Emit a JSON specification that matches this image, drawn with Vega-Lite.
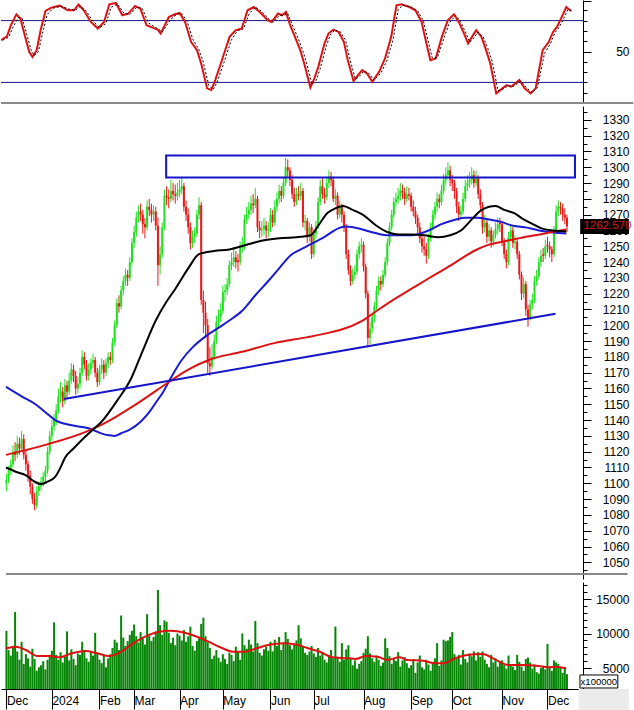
{
"$schema": "https://vega.github.io/schema/vega-lite/v6.json",
"padding": 0,
"background": "white",
"spacing": 3,
"bounds": "flush",
"config": {"view": {"stroke": null}, "font": "Liberation Sans",
  "axis": {"labelFont": "Liberation Sans", "labelFontSize": 12, "labelColor": "black", "domainColor": "black", "tickColor": "black", "grid": false, "title": null}},
"resolve": {"scale": {"x": "independent", "y": "independent"}},
"datasets": {
"px": [
{"i":-21,"o":1100,"h":1106,"l":1095,"c":1102,"v":10400},
{"i":-20,"o":1102,"h":1111,"l":1100,"c":1108,"v":7600},
{"i":-19,"o":1108,"h":1115,"l":1105,"c":1112,"v":6800},
{"i":-18,"o":1112,"h":1124,"l":1110,"c":1120,"v":8200},
{"i":-17,"o":1120,"h":1126,"l":1114,"c":1118,"v":13100},
{"i":-16,"o":1118,"h":1130,"l":1116,"c":1125,"v":7400},
{"i":-15,"o":1125,"h":1129,"l":1118,"c":1122,"v":6200},
{"i":-14,"o":1122,"h":1133,"l":1120,"c":1128,"v":8800},
{"i":-13,"o":1128,"h":1131,"l":1115,"c":1118,"v":5600},
{"i":-12,"o":1118,"h":1121,"l":1108,"c":1112,"v":7000},
{"i":-11,"o":1112,"h":1114,"l":1101,"c":1105,"v":6400},
{"i":-10,"o":1105,"h":1108,"l":1093,"c":1098,"v":5200},
{"i":-9,"o":1098,"h":1100,"l":1087,"c":1090,"v":7800},
{"i":-8,"o":1090,"h":1094,"l":1083,"c":1086,"v":6300},
{"i":-7,"o":1086,"h":1098,"l":1084,"c":1095,"v":4600},
{"i":-6,"o":1095,"h":1101,"l":1092,"c":1098,"v":5100},
{"i":-5,"o":1098,"h":1104,"l":1095,"c":1101,"v":5400},
{"i":-4,"o":1101,"h":1107,"l":1098,"c":1104,"v":6000},
{"i":-3,"o":1104,"h":1111,"l":1100,"c":1108,"v":4800},
{"i":-2,"o":1108,"h":1123,"l":1106,"c":1120,"v":6200},
{"i":-1,"o":1120,"h":1133,"l":1118,"c":1130,"v":6900},
{"i":0,"o":1130,"h":1140,"l":1127,"c":1136,"v":7500},
{"i":1,"o":1136,"h":1144,"l":1133,"c":1140,"v":11600},
{"i":2,"o":1140,"h":1150,"l":1137,"c":1146,"v":6900},
{"i":3,"o":1146,"h":1160,"l":1144,"c":1155,"v":6200},
{"i":4,"o":1155,"h":1164,"l":1151,"c":1158,"v":7300},
{"i":5,"o":1158,"h":1161,"l":1148,"c":1152,"v":5800},
{"i":6,"o":1152,"h":1166,"l":1150,"c":1162,"v":6600},
{"i":7,"o":1162,"h":1165,"l":1154,"c":1158,"v":10300},
{"i":8,"o":1158,"h":1170,"l":1156,"c":1165,"v":6100},
{"i":9,"o":1165,"h":1176,"l":1163,"c":1172,"v":7700},
{"i":10,"o":1172,"h":1175,"l":1164,"c":1168,"v":6300},
{"i":11,"o":1168,"h":1171,"l":1156,"c":1160,"v":5400},
{"i":12,"o":1160,"h":1167,"l":1157,"c":1163,"v":7100},
{"i":13,"o":1163,"h":1173,"l":1160,"c":1170,"v":6900},
{"i":14,"o":1170,"h":1184,"l":1168,"c":1180,"v":8800},
{"i":15,"o":1180,"h":1183,"l":1172,"c":1175,"v":7600},
{"i":16,"o":1175,"h":1178,"l":1165,"c":1168,"v":6400},
{"i":17,"o":1168,"h":1176,"l":1165,"c":1172,"v":5900},
{"i":18,"o":1172,"h":1179,"l":1169,"c":1176,"v":7300},
{"i":19,"o":1176,"h":1182,"l":1173,"c":1178,"v":6800},
{"i":20,"o":1178,"h":1180,"l":1167,"c":1170,"v":10100},
{"i":21,"o":1170,"h":1173,"l":1161,"c":1164,"v":7200},
{"i":22,"o":1164,"h":1175,"l":1162,"c":1172,"v":6200},
{"i":23,"o":1172,"h":1179,"l":1169,"c":1175,"v":5700},
{"i":24,"o":1175,"h":1178,"l":1166,"c":1170,"v":6800},
{"i":25,"o":1170,"h":1179,"l":1168,"c":1176,"v":5100},
{"i":26,"o":1176,"h":1183,"l":1173,"c":1180,"v":6400},
{"i":27,"o":1180,"h":1183,"l":1175,"c":1178,"v":7000},
{"i":28,"o":1178,"h":1192,"l":1176,"c":1189,"v":7900},
{"i":29,"o":1189,"h":1203,"l":1187,"c":1200,"v":9100},
{"i":30,"o":1200,"h":1217,"l":1198,"c":1214,"v":8700},
{"i":31,"o":1214,"h":1219,"l":1208,"c":1212,"v":7600},
{"i":32,"o":1212,"h":1225,"l":1210,"c":1222,"v":12600},
{"i":33,"o":1222,"h":1231,"l":1219,"c":1228,"v":9400},
{"i":34,"o":1228,"h":1236,"l":1225,"c":1232,"v":8200},
{"i":35,"o":1232,"h":1235,"l":1225,"c":1230,"v":8900},
{"i":36,"o":1230,"h":1243,"l":1228,"c":1240,"v":9800},
{"i":37,"o":1240,"h":1255,"l":1238,"c":1252,"v":10400},
{"i":38,"o":1252,"h":1263,"l":1249,"c":1259,"v":11300},
{"i":39,"o":1259,"h":1272,"l":1256,"c":1268,"v":9600},
{"i":40,"o":1268,"h":1276,"l":1265,"c":1272,"v":8700},
{"i":41,"o":1272,"h":1277,"l":1266,"c":1270,"v":10200},
{"i":42,"o":1270,"h":1273,"l":1258,"c":1264,"v":9300},
{"i":43,"o":1264,"h":1268,"l":1255,"c":1262,"v":8400},
{"i":44,"o":1262,"h":1279,"l":1260,"c":1275,"v":12800},
{"i":45,"o":1275,"h":1280,"l":1269,"c":1273,"v":9700},
{"i":46,"o":1273,"h":1277,"l":1265,"c":1270,"v":8900},
{"i":47,"o":1270,"h":1276,"l":1266,"c":1272,"v":9500},
{"i":48,"o":1272,"h":1275,"l":1260,"c":1263,"v":10300},
{"i":49,"o":1263,"h":1268,"l":1225,"c":1238,"v":16300},
{"i":50,"o":1238,"h":1250,"l":1232,"c":1245,"v":11200},
{"i":51,"o":1245,"h":1265,"l":1243,"c":1262,"v":9800},
{"i":52,"o":1262,"h":1286,"l":1260,"c":1282,"v":11900},
{"i":53,"o":1282,"h":1288,"l":1276,"c":1281,"v":11700},
{"i":54,"o":1281,"h":1286,"l":1274,"c":1280,"v":10100},
{"i":55,"o":1280,"h":1292,"l":1278,"c":1285,"v":8600},
{"i":56,"o":1285,"h":1290,"l":1279,"c":1283,"v":9400},
{"i":57,"o":1283,"h":1289,"l":1277,"c":1282,"v":8300},
{"i":58,"o":1282,"h":1290,"l":1279,"c":1284,"v":10000},
{"i":59,"o":1284,"h":1292,"l":1281,"c":1286,"v":9700},
{"i":60,"o":1286,"h":1294,"l":1283,"c":1288,"v":9000},
{"i":61,"o":1288,"h":1290,"l":1272,"c":1275,"v":10500},
{"i":62,"o":1275,"h":1279,"l":1266,"c":1270,"v":8800},
{"i":63,"o":1270,"h":1274,"l":1258,"c":1262,"v":9600},
{"i":64,"o":1262,"h":1265,"l":1248,"c":1252,"v":11000},
{"i":65,"o":1252,"h":1260,"l":1249,"c":1256,"v":8200},
{"i":66,"o":1256,"h":1262,"l":1252,"c":1258,"v":7500},
{"i":67,"o":1258,"h":1273,"l":1256,"c":1270,"v":8900},
{"i":68,"o":1270,"h":1281,"l":1267,"c":1276,"v":9300},
{"i":69,"o":1276,"h":1278,"l":1213,"c":1216,"v":11400},
{"i":70,"o":1216,"h":1222,"l":1195,"c":1208,"v":12300},
{"i":71,"o":1208,"h":1215,"l":1192,"c":1200,"v":9600},
{"i":72,"o":1200,"h":1204,"l":1170,"c":1176,"v":8700},
{"i":73,"o":1176,"h":1186,"l":1168,"c":1174,"v":7900},
{"i":74,"o":1174,"h":1188,"l":1172,"c":1180,"v":6300},
{"i":75,"o":1180,"h":1194,"l":1178,"c":1190,"v":6800},
{"i":76,"o":1190,"h":1206,"l":1188,"c":1202,"v":7600},
{"i":77,"o":1202,"h":1210,"l":1198,"c":1205,"v":6500},
{"i":78,"o":1205,"h":1214,"l":1202,"c":1209,"v":5900},
{"i":79,"o":1209,"h":1225,"l":1207,"c":1221,"v":7000},
{"i":80,"o":1221,"h":1226,"l":1215,"c":1222,"v":6300},
{"i":81,"o":1222,"h":1230,"l":1219,"c":1226,"v":5600},
{"i":82,"o":1226,"h":1241,"l":1224,"c":1238,"v":7200},
{"i":83,"o":1238,"h":1246,"l":1235,"c":1240,"v":6900},
{"i":84,"o":1240,"h":1248,"l":1237,"c":1243,"v":6000},
{"i":85,"o":1243,"h":1247,"l":1236,"c":1240,"v":8100},
{"i":86,"o":1241,"h":1245,"l":1234,"c":1240,"v":7400},
{"i":87,"o":1240,"h":1253,"l":1238,"c":1249,"v":6200},
{"i":88,"o":1249,"h":1256,"l":1246,"c":1250,"v":10000},
{"i":89,"o":1250,"h":1270,"l":1248,"c":1267,"v":8300},
{"i":90,"o":1267,"h":1275,"l":1264,"c":1270,"v":7800},
{"i":91,"o":1270,"h":1278,"l":1267,"c":1273,"v":9100},
{"i":92,"o":1273,"h":1282,"l":1270,"c":1277,"v":8400},
{"i":93,"o":1277,"h":1283,"l":1271,"c":1276,"v":7400},
{"i":94,"o":1276,"h":1287,"l":1274,"c":1280,"v":11800},
{"i":95,"o":1280,"h":1282,"l":1259,"c":1262,"v":8600},
{"i":96,"o":1262,"h":1266,"l":1255,"c":1260,"v":7200},
{"i":97,"o":1260,"h":1266,"l":1256,"c":1261,"v":6800},
{"i":98,"o":1261,"h":1268,"l":1257,"c":1263,"v":7700},
{"i":99,"o":1263,"h":1266,"l":1255,"c":1260,"v":8100},
{"i":100,"o":1260,"h":1265,"l":1256,"c":1261,"v":7500},
{"i":101,"o":1261,"h":1274,"l":1259,"c":1270,"v":8800},
{"i":102,"o":1270,"h":1273,"l":1262,"c":1265,"v":7400},
{"i":103,"o":1265,"h":1279,"l":1263,"c":1275,"v":9100},
{"i":104,"o":1275,"h":1284,"l":1272,"c":1280,"v":8200},
{"i":105,"o":1280,"h":1289,"l":1277,"c":1285,"v":9500},
{"i":106,"o":1285,"h":1288,"l":1278,"c":1282,"v":7600},
{"i":107,"o":1282,"h":1294,"l":1280,"c":1290,"v":8700},
{"i":108,"o":1290,"h":1306,"l":1288,"c":1300,"v":10200},
{"i":109,"o":1300,"h":1305,"l":1294,"c":1298,"v":9200},
{"i":110,"o":1298,"h":1300,"l":1288,"c":1292,"v":8300},
{"i":111,"o":1292,"h":1295,"l":1280,"c":1283,"v":7700},
{"i":112,"o":1283,"h":1287,"l":1275,"c":1278,"v":8500},
{"i":113,"o":1278,"h":1287,"l":1276,"c":1283,"v":9000},
{"i":114,"o":1283,"h":1288,"l":1279,"c":1282,"v":11200},
{"i":115,"o":1282,"h":1290,"l":1279,"c":1285,"v":9300},
{"i":116,"o":1285,"h":1287,"l":1262,"c":1265,"v":8100},
{"i":117,"o":1265,"h":1270,"l":1260,"c":1266,"v":7200},
{"i":118,"o":1266,"h":1268,"l":1252,"c":1256,"v":6900},
{"i":119,"o":1256,"h":1265,"l":1253,"c":1262,"v":7400},
{"i":120,"o":1262,"h":1264,"l":1242,"c":1245,"v":8200},
{"i":121,"o":1245,"h":1261,"l":1243,"c":1258,"v":7100},
{"i":122,"o":1258,"h":1266,"l":1255,"c":1263,"v":6600},
{"i":123,"o":1263,"h":1281,"l":1261,"c":1278,"v":7900},
{"i":124,"o":1278,"h":1292,"l":1276,"c":1288,"v":6800},
{"i":125,"o":1288,"h":1293,"l":1280,"c":1283,"v":7300},
{"i":126,"o":1283,"h":1287,"l":1277,"c":1281,"v":6200},
{"i":127,"o":1281,"h":1293,"l":1279,"c":1290,"v":5800},
{"i":128,"o":1290,"h":1298,"l":1287,"c":1294,"v":6900},
{"i":129,"o":1294,"h":1297,"l":1288,"c":1292,"v":7600},
{"i":130,"o":1292,"h":1294,"l":1278,"c":1280,"v":6400},
{"i":131,"o":1280,"h":1286,"l":1276,"c":1282,"v":11000},
{"i":132,"o":1282,"h":1284,"l":1267,"c":1270,"v":6600},
{"i":133,"o":1270,"h":1279,"l":1268,"c":1275,"v":5900},
{"i":134,"o":1275,"h":1277,"l":1265,"c":1270,"v":8600},
{"i":135,"o":1270,"h":1272,"l":1259,"c":1262,"v":6200},
{"i":136,"o":1262,"h":1264,"l":1242,"c":1245,"v":7700},
{"i":137,"o":1245,"h":1248,"l":1232,"c":1235,"v":8300},
{"i":138,"o":1235,"h":1238,"l":1225,"c":1228,"v":6500},
{"i":139,"o":1228,"h":1236,"l":1226,"c":1232,"v":5400},
{"i":140,"o":1232,"h":1238,"l":1229,"c":1234,"v":6100},
{"i":141,"o":1234,"h":1248,"l":1232,"c":1245,"v":4900},
{"i":142,"o":1245,"h":1253,"l":1242,"c":1250,"v":5600},
{"i":143,"o":1250,"h":1255,"l":1246,"c":1251,"v":6000},
{"i":144,"o":1251,"h":1253,"l":1234,"c":1237,"v":7200},
{"i":145,"o":1237,"h":1239,"l":1217,"c":1220,"v":7800},
{"i":146,"o":1220,"h":1222,"l":1186,"c":1192,"v":9600},
{"i":147,"o":1192,"h":1202,"l":1188,"c":1198,"v":7100},
{"i":148,"o":1198,"h":1208,"l":1195,"c":1205,"v":6400},
{"i":149,"o":1205,"h":1215,"l":1202,"c":1212,"v":5900},
{"i":150,"o":1212,"h":1225,"l":1210,"c":1222,"v":6800},
{"i":151,"o":1222,"h":1231,"l":1219,"c":1228,"v":6200},
{"i":152,"o":1228,"h":1231,"l":1222,"c":1226,"v":5300},
{"i":153,"o":1226,"h":1235,"l":1224,"c":1232,"v":5800},
{"i":154,"o":1232,"h":1243,"l":1230,"c":1240,"v":9300},
{"i":155,"o":1240,"h":1255,"l":1238,"c":1252,"v":7900},
{"i":156,"o":1252,"h":1265,"l":1250,"c":1262,"v":6700},
{"i":157,"o":1262,"h":1273,"l":1260,"c":1270,"v":5600},
{"i":158,"o":1270,"h":1281,"l":1268,"c":1278,"v":6300},
{"i":159,"o":1278,"h":1284,"l":1275,"c":1280,"v":6000},
{"i":160,"o":1280,"h":1287,"l":1277,"c":1282,"v":7300},
{"i":161,"o":1282,"h":1290,"l":1279,"c":1285,"v":5200},
{"i":162,"o":1285,"h":1289,"l":1280,"c":1284,"v":6100},
{"i":163,"o":1284,"h":1287,"l":1276,"c":1280,"v":6600},
{"i":164,"o":1280,"h":1288,"l":1278,"c":1283,"v":5700},
{"i":165,"o":1283,"h":1287,"l":1279,"c":1282,"v":5000},
{"i":166,"o":1282,"h":1284,"l":1272,"c":1275,"v":5400},
{"i":167,"o":1275,"h":1279,"l":1269,"c":1272,"v":6300},
{"i":168,"o":1272,"h":1275,"l":1264,"c":1268,"v":4300},
{"i":169,"o":1268,"h":1270,"l":1258,"c":1262,"v":5800},
{"i":170,"o":1262,"h":1265,"l":1252,"c":1255,"v":6800},
{"i":171,"o":1255,"h":1258,"l":1246,"c":1250,"v":5100},
{"i":172,"o":1250,"h":1256,"l":1244,"c":1248,"v":4800},
{"i":173,"o":1248,"h":1252,"l":1239,"c":1244,"v":6200},
{"i":174,"o":1244,"h":1258,"l":1242,"c":1255,"v":5500},
{"i":175,"o":1255,"h":1265,"l":1253,"c":1262,"v":4600},
{"i":176,"o":1262,"h":1273,"l":1260,"c":1270,"v":5900},
{"i":177,"o":1270,"h":1278,"l":1267,"c":1275,"v":6400},
{"i":178,"o":1275,"h":1284,"l":1272,"c":1280,"v":8600},
{"i":179,"o":1280,"h":1283,"l":1274,"c":1278,"v":5300},
{"i":180,"o":1278,"h":1289,"l":1276,"c":1285,"v":6100},
{"i":181,"o":1285,"h":1296,"l":1283,"c":1292,"v":9100},
{"i":182,"o":1292,"h":1300,"l":1289,"c":1295,"v":8900},
{"i":183,"o":1295,"h":1303,"l":1293,"c":1298,"v":9000},
{"i":184,"o":1298,"h":1301,"l":1288,"c":1292,"v":9500},
{"i":185,"o":1292,"h":1295,"l":1285,"c":1290,"v":10200},
{"i":186,"o":1290,"h":1292,"l":1280,"c":1285,"v":7000},
{"i":187,"o":1285,"h":1287,"l":1271,"c":1275,"v":6400},
{"i":188,"o":1275,"h":1278,"l":1266,"c":1270,"v":6900},
{"i":189,"o":1270,"h":1276,"l":1267,"c":1272,"v":5500},
{"i":190,"o":1272,"h":1284,"l":1270,"c":1280,"v":7600},
{"i":191,"o":1280,"h":1292,"l":1278,"c":1288,"v":6300},
{"i":192,"o":1288,"h":1295,"l":1285,"c":1290,"v":5800},
{"i":193,"o":1290,"h":1297,"l":1287,"c":1292,"v":7100},
{"i":194,"o":1292,"h":1300,"l":1289,"c":1295,"v":6700},
{"i":195,"o":1295,"h":1298,"l":1287,"c":1290,"v":7400},
{"i":196,"o":1290,"h":1298,"l":1288,"c":1293,"v":6100},
{"i":197,"o":1293,"h":1295,"l":1280,"c":1283,"v":7300},
{"i":198,"o":1283,"h":1286,"l":1272,"c":1276,"v":6600},
{"i":199,"o":1276,"h":1278,"l":1258,"c":1262,"v":7400},
{"i":200,"o":1262,"h":1270,"l":1259,"c":1265,"v":6200},
{"i":201,"o":1265,"h":1267,"l":1252,"c":1256,"v":5600},
{"i":202,"o":1256,"h":1264,"l":1253,"c":1260,"v":5100},
{"i":203,"o":1260,"h":1262,"l":1249,"c":1253,"v":6900},
{"i":204,"o":1253,"h":1260,"l":1250,"c":1257,"v":5800},
{"i":205,"o":1257,"h":1265,"l":1255,"c":1261,"v":6400},
{"i":206,"o":1261,"h":1268,"l":1258,"c":1264,"v":5200},
{"i":207,"o":1265,"h":1268,"l":1259,"c":1264,"v":5900},
{"i":208,"o":1264,"h":1266,"l":1250,"c":1253,"v":6100},
{"i":209,"o":1253,"h":1255,"l":1242,"c":1245,"v":5400},
{"i":210,"o":1245,"h":1248,"l":1236,"c":1240,"v":4900},
{"i":211,"o":1240,"h":1259,"l":1238,"c":1256,"v":6800},
{"i":212,"o":1256,"h":1264,"l":1253,"c":1260,"v":5500},
{"i":213,"o":1260,"h":1262,"l":1249,"c":1252,"v":5200},
{"i":214,"o":1252,"h":1257,"l":1248,"c":1253,"v":4700},
{"i":215,"o":1253,"h":1255,"l":1242,"c":1245,"v":6900},
{"i":216,"o":1245,"h":1247,"l":1229,"c":1232,"v":5900},
{"i":217,"o":1232,"h":1234,"l":1216,"c":1220,"v":5200},
{"i":218,"o":1220,"h":1230,"l":1217,"c":1226,"v":4600},
{"i":219,"o":1226,"h":1228,"l":1206,"c":1210,"v":6300},
{"i":220,"o":1210,"h":1213,"l":1199,"c":1205,"v":6500},
{"i":221,"o":1205,"h":1216,"l":1203,"c":1213,"v":5800},
{"i":222,"o":1213,"h":1220,"l":1210,"c":1216,"v":4900},
{"i":223,"o":1216,"h":1231,"l":1214,"c":1228,"v":5500},
{"i":224,"o":1228,"h":1235,"l":1225,"c":1231,"v":4400},
{"i":225,"o":1231,"h":1243,"l":1229,"c":1240,"v":4200},
{"i":226,"o":1240,"h":1248,"l":1237,"c":1244,"v":5000},
{"i":227,"o":1245,"h":1249,"l":1240,"c":1244,"v":5300},
{"i":228,"o":1244,"h":1254,"l":1242,"c":1250,"v":4800},
{"i":229,"o":1251,"h":1256,"l":1246,"c":1250,"v":8500},
{"i":230,"o":1250,"h":1253,"l":1243,"c":1248,"v":5200},
{"i":231,"o":1248,"h":1250,"l":1240,"c":1245,"v":4600},
{"i":232,"o":1245,"h":1263,"l":1243,"c":1260,"v":6100},
{"i":233,"o":1260,"h":1276,"l":1258,"c":1272,"v":5800},
{"i":234,"o":1272,"h":1279,"l":1269,"c":1275,"v":5600},
{"i":235,"o":1275,"h":1278,"l":1270,"c":1274,"v":5000},
{"i":236,"o":1274,"h":1277,"l":1266,"c":1270,"v":4300},
{"i":237,"o":1270,"h":1274,"l":1264,"c":1268,"v":4900},
{"i":238,"o":1268,"h":1270,"l":1259,"c":1262.57,"v":4100}
],
"stoch": [
{"i":-21.2,"k":61},{"i":-18.5,"k":64.8},{"i":-16.7,"k":75.5},{"i":-14.2,"k":86},{"i":-12.4,"k":82},{"i":-10.2,"k":64},{"i":-8.4,"k":49.7},{"i":-6.9,"k":44.8},{"i":-5,"k":51.3},{"i":-3.2,"k":70.6},{"i":-1,"k":89.4},{"i":1.7,"k":92.6},{"i":5.4,"k":94.5},{"i":9.1,"k":90},{"i":11.9,"k":90},{"i":14,"k":95.5},{"i":16.4,"k":90},{"i":19.6,"k":78.7},{"i":22.8,"k":72.3},{"i":25.6,"k":78.7},{"i":28,"k":95.8},{"i":31,"k":97.1},{"i":33.9,"k":85.2},{"i":36.6,"k":86.8},{"i":39.7,"k":94.2},{"i":42.1,"k":91.6},{"i":44.9,"k":75.5},{"i":47.6,"k":73.2},{"i":50,"k":71.3},{"i":51.3,"k":67.4},{"i":55,"k":83.5},{"i":57.8,"k":86.1},{"i":59.9,"k":87.4},{"i":62.4,"k":78.7},{"i":65.1,"k":59.4},{"i":67.8,"k":51.3},{"i":69.7,"k":38.4},{"i":72.4,"k":14.2},{"i":74.3,"k":12.6},{"i":76.1,"k":22.3},{"i":78.9,"k":40},{"i":82.6,"k":64.2},{"i":85.3,"k":70.6},{"i":88.1,"k":72.3},{"i":90.8,"k":90},{"i":93.6,"k":93.2},{"i":96.3,"k":88.4},{"i":100,"k":80.3},{"i":101.8,"k":78.7},{"i":104.6,"k":86.8},{"i":106.4,"k":85.2},{"i":108.2,"k":88.4},{"i":110.1,"k":75.5},{"i":112.9,"k":61},{"i":114.7,"k":51.3},{"i":116.5,"k":38.4},{"i":119.3,"k":15.2},{"i":121.1,"k":23.9},{"i":122.9,"k":35.2},{"i":125.7,"k":57.7},{"i":127.5,"k":67.4},{"i":129.7,"k":71.3},{"i":132.1,"k":69},{"i":134.5,"k":59.4},{"i":136.3,"k":41.6},{"i":138.9,"k":21.3},{"i":140.4,"k":25.5},{"i":142.8,"k":31.9},{"i":145,"k":28.7},{"i":147.4,"k":20.6},{"i":150.5,"k":30.3},{"i":153.2,"k":43.2},{"i":156,"k":64.2},{"i":158.4,"k":94.8},{"i":160.6,"k":95.8},{"i":164.3,"k":93.2},{"i":167,"k":90},{"i":169.8,"k":78.7},{"i":172,"k":57.7},{"i":173.8,"k":41.6},{"i":176.2,"k":43.2},{"i":179,"k":64.2},{"i":181.7,"k":80.3},{"i":184.5,"k":86.1},{"i":186.7,"k":78.7},{"i":189.1,"k":67.4},{"i":190.9,"k":57.7},{"i":192.7,"k":64.2},{"i":194.6,"k":70.6},{"i":197,"k":64.2},{"i":199.1,"k":51.3},{"i":201,"k":38.4},{"i":203.7,"k":9.3},{"i":206.5,"k":14.2},{"i":208.4,"k":17.4},{"i":210.5,"k":15.8},{"i":214.2,"k":22.3},{"i":216.6,"k":14.2},{"i":219.3,"k":9.3},{"i":221.6,"k":14.2},{"i":224.8,"k":51.3},{"i":227.6,"k":59.4},{"i":229.5,"k":69},{"i":231.3,"k":73.9},{"i":233.1,"k":81.9},{"i":235.5,"k":93.2},{"i":237.7,"k":89.4}
],
"stochd": [
{"i":-20.4,"k":61},{"i":-17.7,"k":64},{"i":-15.9,"k":73},{"i":-13.4,"k":83},{"i":-11.6,"k":82},{"i":-9.4,"k":66},{"i":-7.6,"k":52},{"i":-6.1,"k":46},{"i":-4.2,"k":50},{"i":-2.4,"k":67},{"i":-0.2,"k":86},{"i":2.5,"k":92},{"i":6.2,"k":94},{"i":9.9,"k":91},{"i":12.7,"k":90},{"i":14.8,"k":94},{"i":17.2,"k":90},{"i":20.4,"k":80},{"i":23.6,"k":73},{"i":26.4,"k":77},{"i":28.8,"k":93},{"i":31.8,"k":96},{"i":34.7,"k":87},{"i":37.4,"k":86},{"i":40.5,"k":93},{"i":42.9,"k":92},{"i":45.7,"k":78},{"i":48.4,"k":74},{"i":50.8,"k":71},{"i":52.1,"k":69},{"i":55.8,"k":81},{"i":58.6,"k":86},{"i":60.7,"k":87},{"i":63.2,"k":80},{"i":65.9,"k":62},{"i":68.6,"k":52},{"i":70.5,"k":41},{"i":73.2,"k":17},{"i":75.1,"k":13},{"i":76.9,"k":20},{"i":79.7,"k":37},{"i":83.4,"k":61},{"i":86.1,"k":70},{"i":88.9,"k":72},{"i":91.6,"k":87},{"i":94.4,"k":93},{"i":97.1,"k":89},{"i":100.8,"k":81},{"i":102.6,"k":79},{"i":105.4,"k":85},{"i":107.2,"k":85},{"i":109,"k":87},{"i":110.9,"k":77},{"i":113.7,"k":63},{"i":115.5,"k":53},{"i":117.3,"k":41},{"i":120.1,"k":18},{"i":121.9,"k":22},{"i":123.7,"k":33},{"i":126.5,"k":55},{"i":128.3,"k":66},{"i":130.5,"k":71},{"i":132.9,"k":69},{"i":135.3,"k":61},{"i":137.1,"k":44},{"i":139.7,"k":23},{"i":141.2,"k":25},{"i":143.6,"k":31},{"i":145.8,"k":29},{"i":148.2,"k":22},{"i":151.3,"k":29},{"i":154,"k":41},{"i":156.8,"k":61},{"i":159.2,"k":91},{"i":161.4,"k":95},{"i":165.1,"k":93},{"i":167.8,"k":90},{"i":170.6,"k":80},{"i":172.8,"k":60},{"i":174.6,"k":44},{"i":177,"k":44},{"i":179.8,"k":62},{"i":182.5,"k":78},{"i":185.3,"k":85},{"i":187.5,"k":79},{"i":189.9,"k":68},{"i":191.7,"k":59},{"i":193.5,"k":63},{"i":195.4,"k":69},{"i":197.8,"k":64},{"i":199.9,"k":53},{"i":201.8,"k":41},{"i":204.5,"k":12},{"i":207.3,"k":14},{"i":209.2,"k":17},{"i":211.3,"k":16},{"i":215,"k":21},{"i":217.4,"k":15},{"i":220.1,"k":10},{"i":222.4,"k":15},{"i":225.6,"k":48},{"i":228.4,"k":58},{"i":230.3,"k":68},{"i":232.1,"k":73},{"i":233.9,"k":80},{"i":236.3,"k":91},{"i":238.3,"k":89}
],
"maK": [
{"i":-21.2,"v":1110},{"i":-16,"v":1107},{"i":-12,"v":1105},{"i":-8,"v":1101},{"i":-5,"v":1099.5},{"i":-2,"v":1101},{"i":1.5,"v":1104},{"i":4,"v":1110},{"i":6,"v":1116},{"i":10,"v":1122},{"i":15,"v":1129},{"i":19,"v":1134},{"i":23,"v":1139},{"i":30,"v":1152},{"i":36.5,"v":1166},{"i":42,"v":1184},{"i":48,"v":1203},{"i":53,"v":1215},{"i":57,"v":1223},{"i":63,"v":1236},{"i":68,"v":1245},{"i":75,"v":1247},{"i":82,"v":1248},{"i":90,"v":1251},{"i":95.5,"v":1253},{"i":105,"v":1255},{"i":115,"v":1256},{"i":119.6,"v":1257},{"i":124,"v":1265},{"i":127.3,"v":1271},{"i":131,"v":1274},{"i":134.6,"v":1275.5},{"i":139,"v":1273},{"i":143.6,"v":1270},{"i":150,"v":1263},{"i":155,"v":1259},{"i":160,"v":1257.5},{"i":166,"v":1257.5},{"i":172,"v":1257},{"i":178.6,"v":1255.7},{"i":184,"v":1257},{"i":189,"v":1260},{"i":194,"v":1267},{"i":198,"v":1272.4},{"i":202,"v":1275},{"i":205,"v":1275.5},{"i":209,"v":1273},{"i":213.6,"v":1271},{"i":218,"v":1267},{"i":222.7,"v":1263.7},{"i":227,"v":1261},{"i":231.7,"v":1260},{"i":237.7,"v":1259.4}
],
"maB": [
{"i":-21.2,"v":1161},{"i":-14,"v":1155},{"i":-7.6,"v":1150},{"i":-3,"v":1145},{"i":1.5,"v":1140},{"i":8,"v":1137},{"i":16.5,"v":1135},{"i":25.6,"v":1130.5},{"i":29,"v":1130},{"i":32,"v":1131.7},{"i":36,"v":1134},{"i":41,"v":1139},{"i":45,"v":1145},{"i":48.3,"v":1151.6},{"i":51.5,"v":1158},{"i":54.6,"v":1165.8},{"i":60,"v":1178},{"i":65,"v":1186},{"i":71,"v":1193},{"i":77.3,"v":1198.7},{"i":82,"v":1203},{"i":87.8,"v":1209},{"i":94,"v":1219},{"i":100,"v":1228},{"i":105,"v":1236},{"i":110.5,"v":1244.5},{"i":115,"v":1248},{"i":119.6,"v":1251.3},{"i":126,"v":1256},{"i":133.2,"v":1261.8},{"i":136,"v":1262.5},{"i":143.6,"v":1260.6},{"i":149,"v":1258.5},{"i":154.5,"v":1257},{"i":160,"v":1257},{"i":166.3,"v":1257},{"i":170,"v":1258},{"i":174,"v":1260},{"i":180,"v":1264},{"i":186.3,"v":1266.8},{"i":191,"v":1268},{"i":196.7,"v":1268},{"i":202,"v":1267},{"i":207.2,"v":1265.6},{"i":213,"v":1263},{"i":219.5,"v":1261.8},{"i":225,"v":1260},{"i":231.7,"v":1258.7},{"i":237.7,"v":1258.1}
],
"maR": [
{"i":-21.2,"v":1118},{"i":-3,"v":1124.3},{"i":16.5,"v":1133},{"i":24.2,"v":1137.9},{"i":39.2,"v":1150.3},{"i":54.6,"v":1164.6},{"i":63,"v":1172},{"i":72.8,"v":1178.2},{"i":87.8,"v":1183.2},{"i":102.8,"v":1188.7},{"i":118.2,"v":1192.5},{"i":128.7,"v":1195.5},{"i":133.2,"v":1197},{"i":143.6,"v":1203},{"i":151,"v":1210},{"i":159,"v":1217.2},{"i":166,"v":1223},{"i":174,"v":1229.6},{"i":182,"v":1236},{"i":189,"v":1242},{"i":195,"v":1247},{"i":201.3,"v":1250.7},{"i":207,"v":1252.5},{"i":213.6,"v":1254.4},{"i":219,"v":1256},{"i":225.4,"v":1257.5},{"i":231,"v":1259},{"i":237.7,"v":1260.6}
],
"vma": [
{"i":-21.2,"v":7855},{"i":-16.7,"v":8087},{"i":-12,"v":7608},{"i":-6.7,"v":6739},{"i":-1,"v":6739},{"i":3.6,"v":6550},{"i":8.2,"v":7029},{"i":15.5,"v":7463},{"i":21,"v":7130},{"i":26.5,"v":6739},{"i":32,"v":7362},{"i":37.6,"v":8579},{"i":43,"v":9536},{"i":49.5,"v":10260},{"i":55,"v":10405},{"i":61.4,"v":10116},{"i":67,"v":9536},{"i":72.3,"v":8811},{"i":78.9,"v":7855},{"i":83.5,"v":7362},{"i":89,"v":7362},{"i":94.5,"v":7855},{"i":100,"v":8333},{"i":107.3,"v":8579},{"i":113.8,"v":8333},{"i":118.3,"v":7855},{"i":123.8,"v":7362},{"i":129.4,"v":6550},{"i":136.7,"v":6405},{"i":140.4,"v":6304},{"i":145,"v":6739},{"i":150.5,"v":6637},{"i":155,"v":6159},{"i":160.6,"v":6550},{"i":164.3,"v":6159},{"i":171.6,"v":6057},{"i":177,"v":5681},{"i":180.8,"v":5681},{"i":186.3,"v":6405},{"i":191.8,"v":6884},{"i":199,"v":7029},{"i":204.7,"v":6260},{"i":211,"v":5435},{"i":217.5,"v":5435},{"i":224.8,"v":5290},{"i":229.5,"v":5101},{"i":233,"v":5188},{"i":237.7,"v":4957}
],
"box": [{"i1":52.8,"i2":241.7,"p1":1293.5,"p2":1307.5}],
"trend": [{"i1":5.6,"p1":1153.4,"i2":232.7,"p2":1207.3}],
"last": [{"p":1262.57,"t":"1262.570"}],
"unit": [{"t":"x100000"}]
},
"vconcat": [
{
 "width": 582, "height": 103,
 "resolve": {"scale": {"x": "shared", "y": "shared"}, "axis": {"y": "independent"}},
 "layer": [
  {"layer": [
   {"data": {"values": [{"v": 80}, {"v": 20}]},
    "mark": {"type": "rule", "color": "#15158c", "strokeWidth": 1},
    "encoding": {"y": {"field": "v", "type": "quantitative", "scale": {"domain": [0, 100], "nice": false, "zero": false},
      "axis": {"orient": "right", "format": "d", "values": [50], "tickCount": 500, "tickSize": 8,
        "labelAlign": "right", "labelBaseline": "middle", "labelPadding": 38, "labelOverlap": false, "labelBound": false}}}},
   {"data": {"name": "stoch"},
    "mark": {"type": "line", "color": "#dd1111", "strokeWidth": 2, "clip": true},
    "encoding": {"x": {"field": "i", "type": "quantitative", "scale": {"domain": [-21.2, 243.1], "nice": false, "zero": false}, "axis": null},
      "y": {"field": "k", "type": "quantitative"}}},
   {"data": {"name": "stochd"},
    "mark": {"type": "line", "color": "black", "strokeWidth": 1, "strokeDash": [2, 2], "clip": true},
    "encoding": {"x": {"field": "i", "type": "quantitative", "axis": null}, "y": {"field": "k", "type": "quantitative"}}},
   {"data": {"values": [{}]},
    "mark": {"type": "rule", "color": "#8a8a8a", "strokeWidth": 2, "clip": false},
    "encoding": {"x": {"datum": -21.2, "type": "quantitative", "axis": null}, "x2": {"datum": 266}, "y": {"datum": 0, "type": "quantitative"}}}
  ]},
  {"data": {"values": [{"v": 50}]},
   "mark": {"type": "rule", "opacity": 0},
   "encoding": {"y": {"field": "v", "type": "quantitative",
     "axis": {"orient": "right", "values": [10,20,30,40,60,70,80,90], "tickCount": 500, "tickSize": 4, "labels": false, "domain": false}}}},
  {"data": {"values": [{"v": 50}]},
   "mark": {"type": "rule", "opacity": 0},
   "encoding": {"y": {"field": "v", "type": "quantitative",
     "axis": {"orient": "right", "values": [0.5, 99.5], "tickCount": 500, "tickSize": 8, "labels": false, "domain": false}}}}
 ]
},
{
 "width": 582, "height": 473,
 "resolve": {"scale": {"x": "shared", "y": "shared"}, "axis": {"y": "independent"}},
 "layer": [
  {"layer": [
   {"data": {"name": "px"},
    "mark": {"type": "rule", "strokeWidth": 1, "clip": true},
    "encoding": {"x": {"field": "i", "type": "quantitative", "scale": {"domain": [-21.2, 243.1], "nice": false, "zero": false}, "axis": null},
      "y": {"field": "l", "type": "quantitative", "scale": {"domain": [1042.6, 1335.6], "nice": false, "zero": false},
        "axis": {"orient": "right", "format": "d", "tickCount": 500,
          "values": [1050,1060,1070,1080,1090,1100,1110,1120,1130,1140,1150,1160,1170,1180,1190,1200,1210,1220,1230,1240,1250,1260,1270,1280,1290,1300,1310,1320,1330],
          "tickSize": 8, "labelAlign": "right", "labelBaseline": "middle", "labelPadding": 38, "labelOverlap": false, "labelBound": false}},
      "y2": {"field": "h"},
      "color": {"condition": {"test": "datum.c >= datum.o", "value": "#22dd22"}, "value": "#e81818"}}},
   {"data": {"name": "px"},
    "mark": {"type": "bar", "size": 2, "clip": true},
    "encoding": {"x": {"field": "i", "type": "quantitative", "axis": null},
      "y": {"field": "o", "type": "quantitative"}, "y2": {"field": "c"},
      "color": {"condition": {"test": "datum.c >= datum.o", "value": "#22dd22"}, "value": "#e81818"}}},
   {"data": {"name": "box"},
    "mark": {"type": "rect", "fill": null, "fillOpacity": 0, "stroke": "#1414c8", "strokeWidth": 2, "clip": false},
    "encoding": {"x": {"field": "i1", "type": "quantitative", "axis": null}, "x2": {"field": "i2"},
      "y": {"field": "p1", "type": "quantitative"}, "y2": {"field": "p2"}}},
   {"data": {"name": "maB"},
    "mark": {"type": "line", "color": "#1a1ad2", "strokeWidth": 2, "interpolate": "monotone", "clip": true},
    "encoding": {"x": {"field": "i", "type": "quantitative", "axis": null}, "y": {"field": "v", "type": "quantitative"}}},
   {"data": {"name": "maR"},
    "mark": {"type": "line", "color": "#dd1111", "strokeWidth": 2, "interpolate": "monotone", "clip": true},
    "encoding": {"x": {"field": "i", "type": "quantitative", "axis": null}, "y": {"field": "v", "type": "quantitative"}}},
   {"data": {"name": "maK"},
    "mark": {"type": "line", "color": "black", "strokeWidth": 2, "interpolate": "monotone", "clip": true},
    "encoding": {"x": {"field": "i", "type": "quantitative", "axis": null}, "y": {"field": "v", "type": "quantitative"}}},
   {"data": {"name": "trend"},
    "mark": {"type": "rule", "color": "#1414c8", "strokeWidth": 2, "clip": true},
    "encoding": {"x": {"field": "i1", "type": "quantitative", "axis": null}, "x2": {"field": "i2"},
      "y": {"field": "p1", "type": "quantitative"}, "y2": {"field": "p2"}}},
   {"data": {"name": "last"},
    "mark": {"type": "bar", "orient": "horizontal", "size": 15, "color": "black", "clip": false},
    "encoding": {"x": {"datum": 244.1, "type": "quantitative", "axis": null}, "x2": {"datum": 266.6}, "y": {"field": "p", "type": "quantitative"}}},
   {"data": {"name": "last"},
    "mark": {"type": "text", "color": "#e01010", "align": "left", "baseline": "middle", "fontSize": 11.5, "clip": false},
    "encoding": {"x": {"datum": 245.6, "type": "quantitative", "axis": null}, "y": {"field": "p", "type": "quantitative"}, "text": {"field": "t"}}},
   {"data": {"values": [{}]},
    "mark": {"type": "rule", "color": "#8a8a8a", "strokeWidth": 2, "clip": false},
    "encoding": {"x": {"datum": -21.2, "type": "quantitative", "axis": null}, "x2": {"datum": 266}, "y": {"datum": 1042.6, "type": "quantitative"}}}
  ]},
  {"data": {"values": [{"v": 1200}]},
   "mark": {"type": "rule", "opacity": 0},
   "encoding": {"y": {"field": "v", "type": "quantitative",
     "axis": {"orient": "right", "tickCount": 500, "values": [1045,1055,1065,1075,1085,1095,1105,1115,1125,1135,1145,1155,1165,1175,1185,1195,1205,1215,1225,1235,1245,1255,1265,1275,1285,1295,1305,1315,1325,1335], "tickSize": 4, "labels": false, "domain": false}}}}
 ]
},
{
 "width": 582, "height": 107,
 "resolve": {"scale": {"x": "shared", "y": "shared"}, "axis": {"y": "independent"}},
 "layer": [
  {"layer": [
   {"data": {"name": "px"},
    "mark": {"type": "bar", "size": 2, "color": "#078507", "clip": true},
    "encoding": {"x": {"field": "i", "type": "quantitative", "scale": {"domain": [-21.2, 243.1], "nice": false, "zero": false},
        "axis": {"orient": "bottom", "tickCount": 500, "values": [-21,0,22,38,59,79,101,121,144,166,185,208,229],
          "labelExpr": "['Dec','2024','Feb','Mar','Apr','May','Jun','Jul','Aug','Sep','Oct','Nov','Dec'][indexof([-21,0,22,38,59,79,101,121,144,166,185,208,229], datum.value)]",
          "tickSize": 20, "labelPadding": -14, "labelAlign": "left", "labelDx": 2, "labelFlush": false, "labelOverlap": false, "labelBound": false}},
      "y": {"field": "v", "type": "quantitative", "scale": {"domain": [1957, 17464], "nice": false, "zero": false},
        "axis": {"orient": "right", "format": "d", "tickCount": 500, "values": [5000, 10000, 15000], "tickSize": 8,
          "labelAlign": "right", "labelBaseline": "middle", "labelPadding": 38, "labelOverlap": false, "labelBound": false}}}},
   {"data": {"name": "vma"},
    "mark": {"type": "line", "color": "#dd1111", "strokeWidth": 2, "interpolate": "monotone", "clip": true},
    "encoding": {"x": {"field": "i", "type": "quantitative"}, "y": {"field": "v", "type": "quantitative"}}},
   {"data": {"values": [{}]},
    "mark": {"type": "rect", "color": "#ebebeb", "clip": false},
    "encoding": {"x": {"datum": 243.4, "type": "quantitative"}, "x2": {"datum": 266.6}, "y": {"datum": 1957, "type": "quantitative"}, "y2": {"datum": -1300}}},
   {"data": {"name": "unit"},
    "mark": {"type": "rect", "fill": "white", "stroke": "black", "strokeWidth": 1, "clip": false},
    "encoding": {"x": {"datum": 244.0, "type": "quantitative"}, "x2": {"datum": 261.5}, "y": {"datum": 3990, "type": "quantitative"}, "y2": {"datum": 2100}}},
   {"data": {"name": "unit"},
    "mark": {"type": "text", "color": "black", "align": "left", "baseline": "middle", "fontSize": 9.5, "clip": false},
    "encoding": {"x": {"datum": 244.3, "type": "quantitative"}, "y": {"datum": 3000, "type": "quantitative"}, "text": {"field": "t"}}}
  ]},
  {"data": {"values": [{"v": 5000}]},
   "mark": {"type": "rule", "opacity": 0},
   "encoding": {"y": {"field": "v", "type": "quantitative",
     "axis": {"orient": "right", "tickCount": 500, "values": [2000,3000,4000,6000,7000,8000,9000,11000,12000,13000,14000,16000,17000], "tickSize": 4, "labels": false, "domain": false}}}}
 ]
}
]
}
